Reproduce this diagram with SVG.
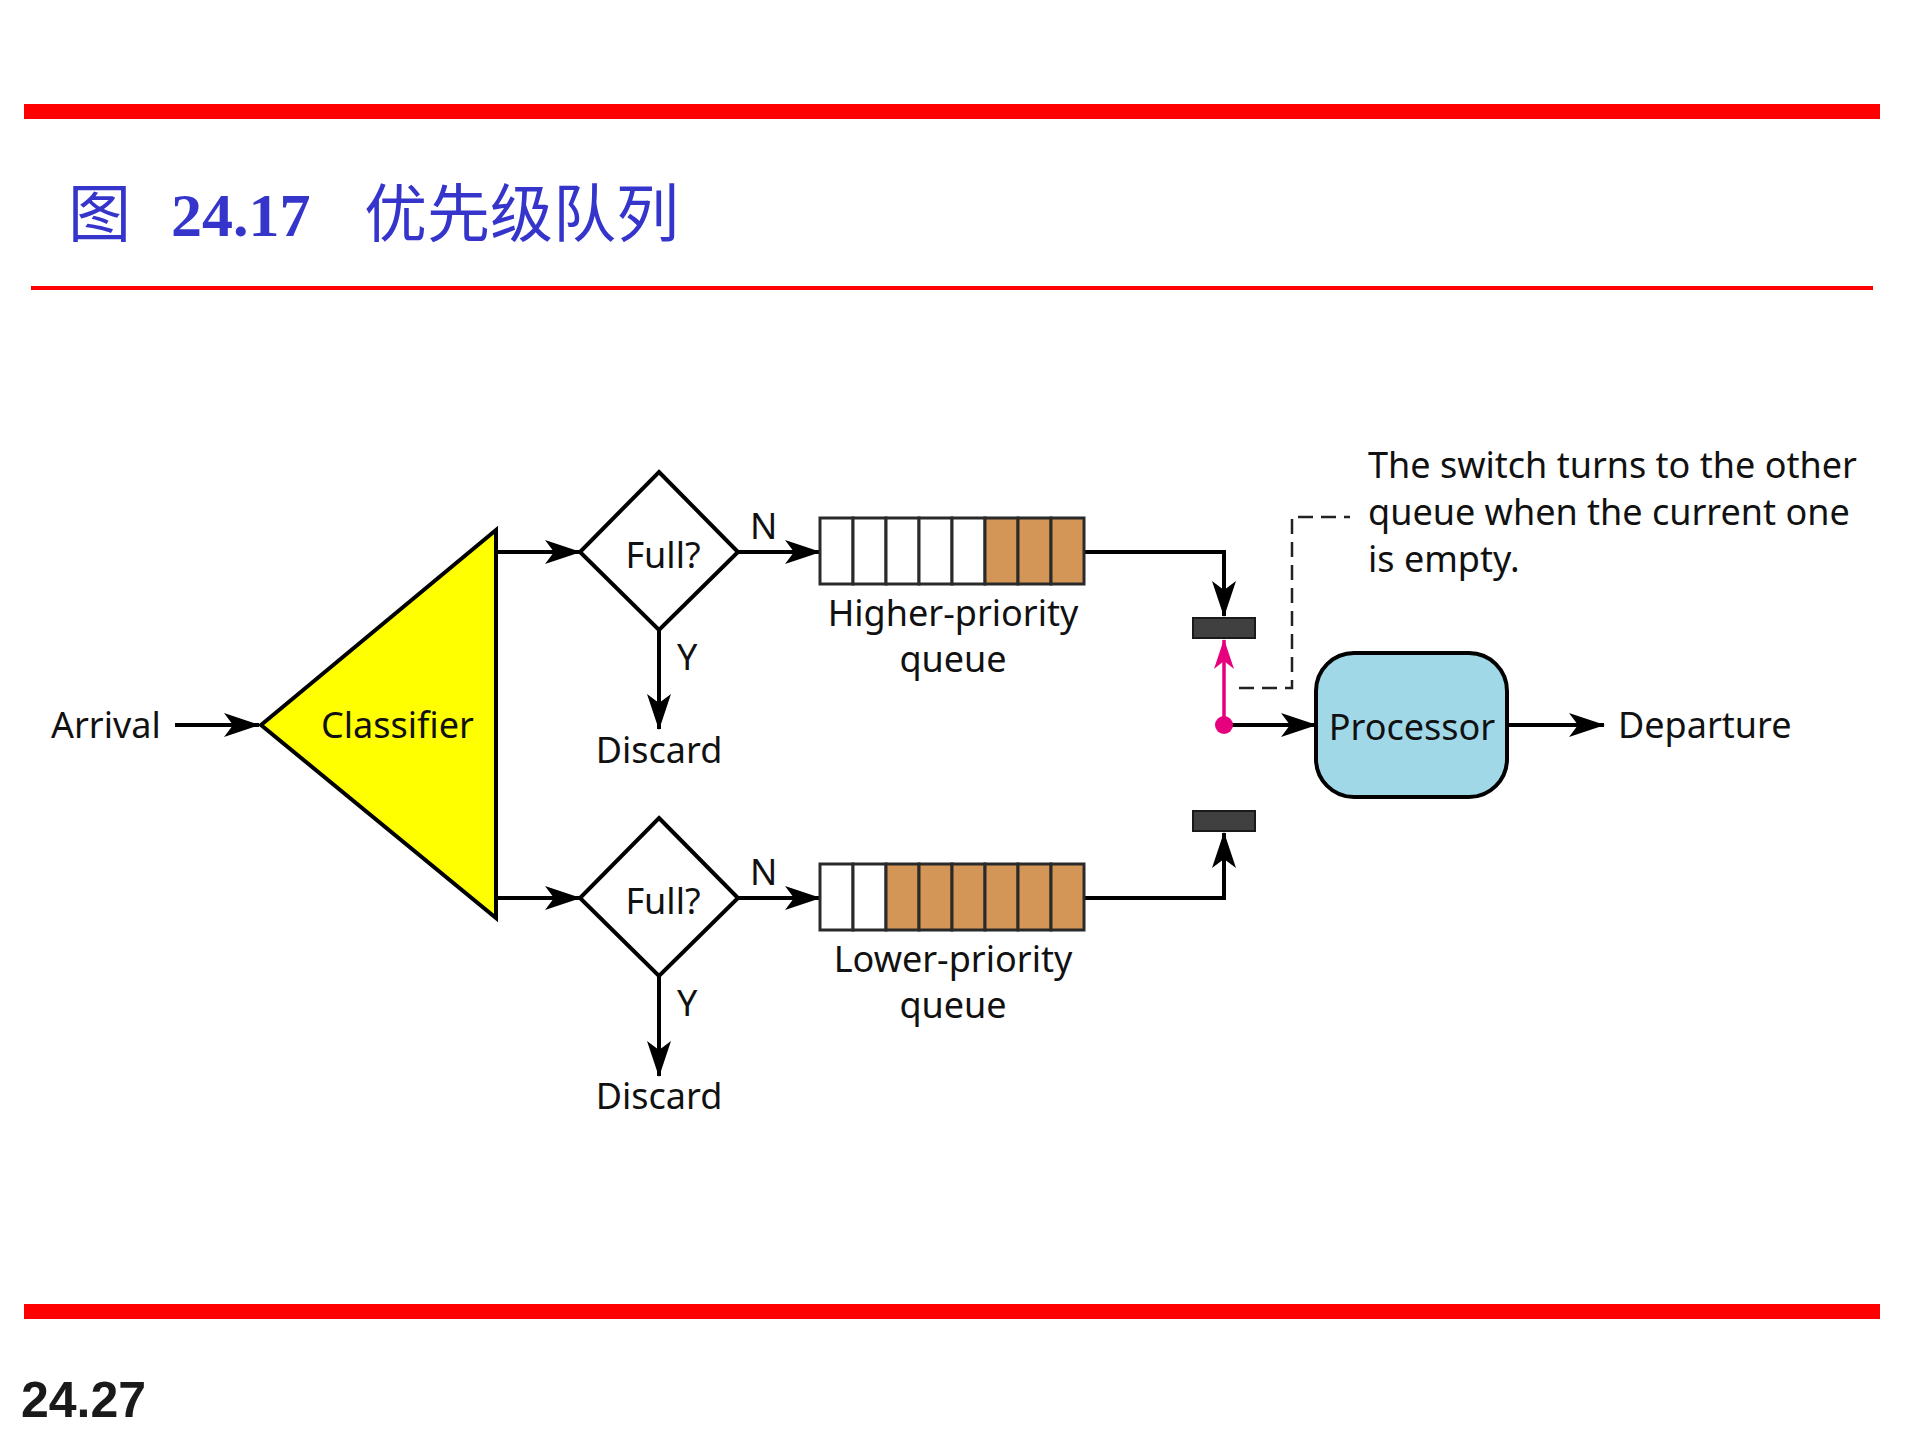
<svg xmlns="http://www.w3.org/2000/svg" width="1920" height="1440" viewBox="0 0 1920 1440">
  <style>
    .lbl { font-family: "Noto Sans", "Open Sans", sans-serif; font-size: 36px; fill: #111; }
    .mid { text-anchor: middle; }
    .conn { fill: none; stroke: #000; stroke-width: 4; }
    .shape { stroke: #000; stroke-width: 4; stroke-linejoin: miter; }
    .cellw { fill: #fff; stroke: #2a2a2a; stroke-width: 3; }
    .cellt { fill: #d39657; stroke: #2a2a2a; stroke-width: 3; }
    .bar { fill: #404040; stroke: #1a1a1a; stroke-width: 2; }
    .title { font-family: "Noto Sans CJK SC", "Noto Sans", sans-serif; font-size: 63px; fill: #3535cc; }
  </style>
  <defs>
    <marker id="ah" viewBox="0 0 36 26" refX="35" refY="13" markerWidth="36" markerHeight="26" orient="auto" markerUnits="userSpaceOnUse">
      <path d="M0,1 L36,13 L0,25 L9,13 Z" fill="#000"/>
    </marker>
    <marker id="ahp" viewBox="0 0 30 22" refX="29" refY="11" markerWidth="30" markerHeight="22" orient="auto" markerUnits="userSpaceOnUse">
      <path d="M0,1 L30,11 L0,21 L8,11 Z" fill="#e6007e"/>
    </marker>
  </defs>

  <rect width="1920" height="1440" fill="#fff"/>

  <!-- page decoration -->
  <g id="header">
    <rect x="24" y="104" width="1856" height="15" fill="#ff0000"/>
    <text class="title" x="68" y="236">图</text>
    <text x="171" y="236" font-family="Liberation Serif, serif" font-weight="bold" font-size="62" fill="#3535cc">24.17</text>
    <text class="title" x="364" y="236">优先级队列</text>
    <rect x="31" y="286" width="1842" height="4" fill="#ff0000"/>
  </g>
  <g id="footer">
    <rect x="24" y="1304" width="1856" height="15" fill="#ff0000"/>
    <text x="21" y="1417" font-family="Liberation Sans, Arial, sans-serif" font-weight="bold" font-size="50" fill="#1a1a1a">24.27</text>
  </g>

  <!-- connectors -->
  <g id="connectors">
    <line class="conn" x1="175" y1="725" x2="259" y2="725" marker-end="url(#ah)"/>
    <line class="conn" x1="496" y1="552" x2="580" y2="552" marker-end="url(#ah)"/>
    <line class="conn" x1="496" y1="898" x2="580" y2="898" marker-end="url(#ah)"/>
    <line class="conn" x1="738" y1="552" x2="820" y2="552" marker-end="url(#ah)"/>
    <line class="conn" x1="738" y1="898" x2="820" y2="898" marker-end="url(#ah)"/>
    <line class="conn" x1="659" y1="630" x2="659" y2="729" marker-end="url(#ah)"/>
    <line class="conn" x1="659" y1="976" x2="659" y2="1076" marker-end="url(#ah)"/>
    <polyline class="conn" points="1084,552 1224,552 1224,616" marker-end="url(#ah)"/>
    <polyline class="conn" points="1084,898 1224,898 1224,833" marker-end="url(#ah)"/>
    <line class="conn" x1="1224" y1="725" x2="1316" y2="725" marker-end="url(#ah)"/>
    <line class="conn" x1="1507" y1="725" x2="1604" y2="725" marker-end="url(#ah)"/>
    <line x1="1224" y1="725" x2="1224" y2="640" stroke="#e6007e" stroke-width="3.5" marker-end="url(#ahp)"/>
    <circle cx="1224" cy="725" r="9" fill="#e6007e"/>
    <polyline points="1239,688 1292,688 1292,517 1350,517" fill="none" stroke="#222" stroke-width="2.5" stroke-dasharray="15 8"/>
  </g>

  <!-- nodes -->
  <g id="arrival">
    <text class="lbl" x="51" y="738">Arrival</text>
  </g>

  <g id="classifier">
    <polygon class="shape" points="261,725 496,530 496,918" fill="#ffff00"/>
    <text class="lbl" x="321" y="738">Classifier</text>
  </g>

  <g id="full-upper">
    <polygon class="shape" points="659,472 738,552 659,630 580,552" fill="#fff"/>
    <text class="lbl mid" x="663" y="568">Full?</text>
    <text class="lbl" x="750" y="539">N</text>
    <text class="lbl" x="677" y="670">Y</text>
  </g>

  <g id="discard-upper">
    <text class="lbl mid" x="659" y="763">Discard</text>
  </g>

  <g id="full-lower">
    <polygon class="shape" points="659,818 738,898 659,976 580,898" fill="#fff"/>
    <text class="lbl mid" x="663" y="914">Full?</text>
    <text class="lbl" x="750" y="885">N</text>
    <text class="lbl" x="677" y="1016">Y</text>
  </g>

  <g id="discard-lower">
    <text class="lbl mid" x="659" y="1109">Discard</text>
  </g>

  <g id="queue-high">
    <rect class="cellw" x="820" y="518" width="33" height="66"/>
    <rect class="cellw" x="853" y="518" width="33" height="66"/>
    <rect class="cellw" x="886" y="518" width="33" height="66"/>
    <rect class="cellw" x="919" y="518" width="33" height="66"/>
    <rect class="cellw" x="952" y="518" width="33" height="66"/>
    <rect class="cellt" x="985" y="518" width="33" height="66"/>
    <rect class="cellt" x="1018" y="518" width="33" height="66"/>
    <rect class="cellt" x="1051" y="518" width="33" height="66"/>
    <text class="lbl mid" x="953" y="626">Higher-priority</text>
    <text class="lbl mid" x="953" y="672">queue</text>
  </g>

  <g id="queue-low">
    <rect class="cellw" x="820" y="864" width="33" height="66"/>
    <rect class="cellw" x="853" y="864" width="33" height="66"/>
    <rect class="cellt" x="886" y="864" width="33" height="66"/>
    <rect class="cellt" x="919" y="864" width="33" height="66"/>
    <rect class="cellt" x="952" y="864" width="33" height="66"/>
    <rect class="cellt" x="985" y="864" width="33" height="66"/>
    <rect class="cellt" x="1018" y="864" width="33" height="66"/>
    <rect class="cellt" x="1051" y="864" width="33" height="66"/>
    <text class="lbl mid" x="953" y="972">Lower-priority</text>
    <text class="lbl mid" x="953" y="1018">queue</text>
  </g>

  <g id="switch-upper">
    <rect class="bar" x="1193" y="618" width="62" height="20"/>
  </g>
  <g id="switch-lower">
    <rect class="bar" x="1193" y="811" width="62" height="20"/>
  </g>

  <g id="processor">
    <rect class="shape" x="1316" y="653" width="191" height="144" rx="38" ry="38" fill="#a0d8e8"/>
    <text class="lbl mid" x="1412" y="740">Processor</text>
  </g>

  <g id="departure">
    <text class="lbl" x="1618" y="738">Departure</text>
  </g>

  <g id="note">
    <text class="lbl" x="1368" y="478">The switch turns to the other</text>
    <text class="lbl" x="1368" y="525">queue when the current one</text>
    <text class="lbl" x="1368" y="572">is empty.</text>
  </g>
</svg>
